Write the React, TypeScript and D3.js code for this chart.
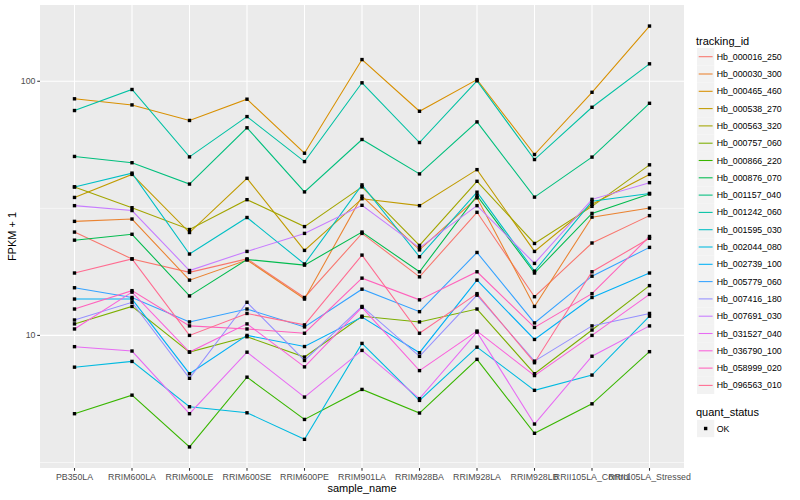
import * as d3 from 'd3';

const samples = [
  'PB350LA', 'RRIM600LA', 'RRIM600LE', 'RRIM600SE', 'RRIM600PE', 'RRIM901LA',
  'RRIM928BA', 'RRIM928LA', 'RRIM928LB', 'RRII105LA_Control', 'RRII105LA_Stressed',
];

const trackingIds = [
  'Hb_000016_250', 'Hb_000030_300', 'Hb_000465_460', 'Hb_000538_270', 'Hb_000563_320',
  'Hb_000757_060', 'Hb_000866_220', 'Hb_000876_070', 'Hb_001157_040', 'Hb_001242_060',
  'Hb_001595_030', 'Hb_002044_080', 'Hb_002739_100', 'Hb_005779_060', 'Hb_007416_180',
  'Hb_007691_030', 'Hb_031527_040', 'Hb_036790_100', 'Hb_058999_020', 'Hb_096563_010',
];

const palette = [
  '#F8766D', '#EA8331', '#D89000', '#C09B00', '#A3A500', '#7CAE00', '#39B600', '#00BB4E',
  '#00BF7D', '#00C1A3', '#00BFC4', '#00BAE0', '#00B0F6', '#35A2FF', '#9590FF', '#C77CFF',
  '#E76BF3', '#FA62DB', '#FF62BC', '#FF6C91',
];

// FPKM + 1, one value per sample
const hb000016_250 = [25.5, 20.0, 17.7, 20.0, 14.1, 25.2, 17.0, 30.5, 14.2, 23.1, 29.6];
const hb000030_300 = [28.1, 28.7, 16.5, 19.8, 13.9, 35.3, 21.7, 34.8, 13.0, 29.2, 31.7];
const hb000465_460 = [85.3, 80.7, 70.1, 85.0, 52.1, 121.7, 76.2, 101.5, 51.5, 90.5, 164.9];
const hb000538_270 = [34.9, 43.0, 25.4, 41.5, 21.6, 34.5, 32.4, 44.9, 21.4, 32.8, 43.0];
const hb000563_320 = [38.4, 31.8, 26.1, 34.2, 26.8, 38.4, 22.6, 40.4, 23.0, 32.2, 46.9];
const hb000757_060 = [11.1, 13.0, 8.6, 9.88, 8.22, 11.9, 11.3, 12.7, 7.07, 10.5, 15.7];
const hb000866_220 = [4.92, 5.82, 3.64, 6.85, 4.67, 6.13, 4.95, 8.05, 4.12, 5.38, 8.63];
const hb000876_070 = [23.7, 25.0, 14.3, 19.9, 18.9, 25.5, 17.8, 35.5, 17.6, 30.2, 36.0];
const hb001157_040 = [50.6, 47.8, 39.4, 65.6, 36.7, 59.0, 43.2, 69.2, 35.0, 50.3, 81.9];
const hb001242_060 = [76.7, 92.8, 50.4, 72.6, 48.3, 98.6, 57.4, 100.4, 49.2, 79.0, 117.1];
const hb001595_030 = [38.4, 43.5, 20.9, 29.1, 19.1, 39.1, 20.4, 36.6, 17.9, 33.7, 36.2];
const hb002044_080 = [7.5, 7.9, 5.24, 4.96, 3.9, 9.3, 5.55, 8.99, 6.08, 6.98, 11.9];
const hb002739_100 = [13.9, 13.9, 7.07, 10.0, 9.04, 11.8, 8.55, 16.5, 9.64, 14.1, 17.6];
const hb005779_060 = [15.4, 14.1, 11.3, 12.7, 10.8, 15.2, 12.4, 21.2, 11.2, 17.1, 22.2];
const hb007416_180 = [11.5, 13.5, 6.78, 13.5, 7.97, 13.0, 8.27, 14.4, 7.92, 10.9, 12.2];
const hb007691_030 = [32.4, 31.0, 18.0, 21.4, 25.2, 32.5, 22.1, 32.4, 19.2, 34.3, 39.9];
const hb031527_040 = [9.03, 8.68, 4.92, 8.59, 5.72, 8.73, 5.64, 10.3, 4.48, 8.28, 10.9];
const hb036790_100 = [10.6, 14.8, 8.6, 11.1, 7.52, 12.9, 7.27, 10.4, 6.95, 10.0, 14.5];
const hb058999_020 = [12.7, 15.0, 10.9, 10.6, 10.2, 16.8, 13.8, 17.8, 10.75, 14.6, 24.5];
const hb096563_010 = [17.6, 20.0, 10.0, 12.2, 11.0, 20.7, 10.2, 14.6, 7.81, 17.8, 24.1];

const seriesValues = [
  hb000016_250, hb000030_300, hb000465_460, hb000538_270, hb000563_320,
  hb000757_060, hb000866_220, hb000876_070, hb001157_040, hb001242_060,
  hb001595_030, hb002044_080, hb002739_100, hb005779_060, hb007416_180,
  hb007691_030, hb031527_040, hb036790_100, hb058999_020, hb096563_010,
];

const yBreaks = [10, 100];
const yMinorBreaks = [3.1623, 31.623, 316.23];

const WIDTH = 800;
const HEIGHT = 500;
const panel = { left: 40, top: 5, right: 684, bottom: 468 };
const FONT = '"Liberation Sans", Arial, Helvetica, sans-serif';

export default function App() {
  const all = seriesValues.flat();
  const lo = Math.log10(d3.min(all) as number);
  const hi = Math.log10(d3.max(all) as number);
  const pad = (hi - lo) * 0.05;

  const x = d3.scalePoint<string>().domain(samples).range([panel.left, panel.right]).padding(0.6);
  const y = d3
    .scaleLog()
    .domain([Math.pow(10, lo - pad), Math.pow(10, hi + pad)])
    .range([panel.bottom, panel.top]);

  const line = d3
    .line<number>()
    .x((_, i) => x(samples[i]) as number)
    .y((d) => y(d));

  const inDomain = (v: number) => v >= y.domain()[0] && v <= y.domain()[1];

  const legendX = 697;
  const legendTop = 56.7;
  const keyStep = 17.3;

  return (
    <div style={{ position: 'fixed', left: 0, top: 0, background: '#fff' }}>
      <svg width={WIDTH} height={HEIGHT} style={{ display: 'block', fontFamily: FONT }}>
        <rect x={0} y={0} width={WIDTH} height={HEIGHT} fill="#fff" />
        <rect
          x={panel.left}
          y={panel.top}
          width={panel.right - panel.left}
          height={panel.bottom - panel.top}
          fill="#EBEBEB"
        />
        {yMinorBreaks.filter(inDomain).map((v) => (
          <line key={'mn' + v} x1={panel.left} x2={panel.right} y1={y(v)} y2={y(v)} stroke="#fff" strokeWidth={0.55} />
        ))}
        {yBreaks.map((v) => (
          <line key={'mj' + v} x1={panel.left} x2={panel.right} y1={y(v)} y2={y(v)} stroke="#fff" strokeWidth={1.07} />
        ))}
        {samples.map((s) => (
          <line key={'gx' + s} x1={x(s)} x2={x(s)} y1={panel.top} y2={panel.bottom} stroke="#fff" strokeWidth={1.07} />
        ))}

        {seriesValues.map((vals, i) => (
          <path key={'l' + i} d={line(vals) as string} fill="none" stroke={palette[i]} strokeWidth={1.07} />
        ))}
        {seriesValues.map((vals, i) =>
          vals.map((v, j) => (
            <rect
              key={'p' + i + '-' + j}
              x={(x(samples[j]) as number) - 1.7}
              y={y(v) - 1.7}
              width={3.4}
              height={3.4}
              fill="#000"
            />
          ))
        )}

        {/* y axis */}
        {yBreaks.map((v) => (
          <g key={'yt' + v}>
            <line x1={panel.left - 2.75} x2={panel.left} y1={y(v)} y2={y(v)} stroke="#333" strokeWidth={1.07} />
            <text x={panel.left - 4.5} y={y(v)} dy="0.35em" textAnchor="end" fontSize={8.8} fill="#4D4D4D">
              {v}
            </text>
          </g>
        ))}
        {/* x axis */}
        {samples.map((s) => (
          <g key={'xt' + s}>
            <line x1={x(s)} x2={x(s)} y1={panel.bottom} y2={panel.bottom + 2.75} stroke="#333" strokeWidth={1.07} />
            <text x={x(s)} y={panel.bottom + 12} textAnchor="middle" fontSize={8.8} fill="#4D4D4D">
              {s}
            </text>
          </g>
        ))}
        <text x={(panel.left + panel.right) / 2} y={492} textAnchor="middle" fontSize={11} fill="#000">
          sample_name
        </text>
        <text
          transform={`translate(15.5,${(panel.top + panel.bottom) / 2}) rotate(-90)`}
          textAnchor="middle"
          fontSize={11}
          fill="#000"
        >
          FPKM + 1
        </text>

        {/* legend: tracking_id */}
        <text x={696} y={44.5} fontSize={11} fill="#000">
          tracking_id
        </text>
        {trackingIds.map((id, i) => {
          const cy = legendTop + i * keyStep;
          return (
            <g key={'lg' + id}>
              <rect x={legendX} y={cy - 8.64} width={17.28} height={17.28} fill="#F2F2F2" />
              <line x1={legendX + 1.7} x2={legendX + 15.6} y1={cy} y2={cy} stroke={palette[i]} strokeWidth={1.07} />
              <text x={716.7} y={cy} dy="0.35em" fontSize={8.8} fill="#000">
                {id}
              </text>
            </g>
          );
        })}

        {/* legend: quant_status */}
        <text x={696} y={416} fontSize={11} fill="#000">
          quant_status
        </text>
        <rect x={legendX} y={428.5 - 8.64} width={17.28} height={17.28} fill="#F2F2F2" />
        <rect x={legendX + 8.64 - 1.7} y={428.5 - 1.7} width={3.4} height={3.4} fill="#000" />
        <text x={716.7} y={428.5} dy="0.35em" fontSize={8.8} fill="#000">
          OK
        </text>
      </svg>
    </div>
  );
}
